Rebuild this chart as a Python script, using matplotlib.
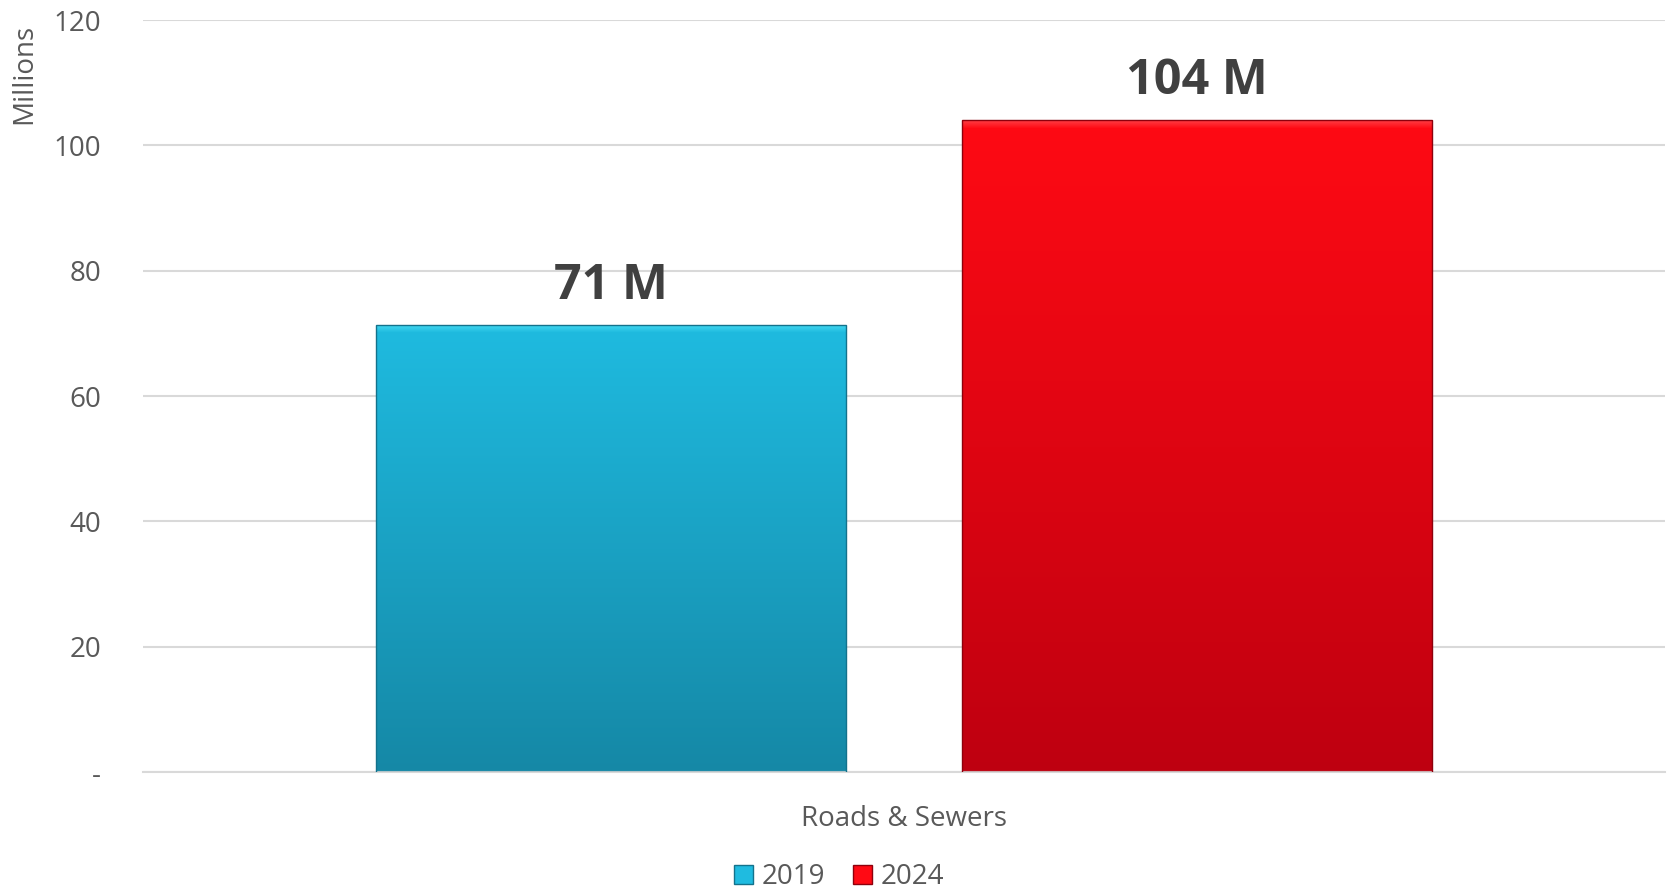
import matplotlib
matplotlib.use("Agg")
import matplotlib.pyplot as plt
import numpy as np
from matplotlib.colors import to_rgb
from matplotlib.patches import Rectangle

categories = ["Roads & Sewers"]
series_names = ["2019", "2024"]
values = [71.4, 104.0]
labels = ["71 M", "104 M"]
yticks = [0, 20, 40, 60, 80, 100, 120]
ytick_labels = ["-", "20", "40", "60", "80", "100", "120"]

top_colors = ["#1FBBE0", "#FF0A14"]
bot_colors = ["#1588A6", "#BE0010"]
bevel_colors = ["#4FE3F7", "#FF4A50"]
edge_colors = ["#13728C", "#8E000C"]

plt.rcParams['font.family'] = ['Open Sans', 'DejaVu Sans']
fig = plt.figure(figsize=(16.71, 8.89), dpi=100)
ax = fig.add_axes([0.0856, 0.1316, 0.9108, 0.8459])
ax.set_xlim(0, 1)
ax.set_ylim(0, 120)

offsets = [-0.1925, 0.1925]
width = 0.309
px_per_unit = 0.8459 * 889 / 120.0
for i, (v, lab) in enumerate(zip(values, labels)):
    bars = ax.bar(0.5 + offsets[i], v, width=width, color='none',
                  edgecolor=edge_colors[i], linewidth=1.0, zorder=3,
                  label=series_names[i])
    p = bars[0]
    x0 = p.get_x(); w = p.get_width(); h = p.get_height()
    n = max(int(h * px_per_unit), 2)
    t = np.linspace(0, 1, n)[:, None]
    c0 = np.array(to_rgb(bot_colors[i])); c1 = np.array(to_rgb(top_colors[i]))
    img = c0 + (c1 - c0) * t
    bev = np.array(to_rgb(bevel_colors[i]))
    for k in range(8):
        a = 1 - k / 8.0
        img[n - 1 - k] = img[n - 1 - k] * (1 - a * 0.8) + bev * a * 0.8
    img = img[:, None, :]
    im = ax.imshow(img, extent=[x0, x0 + w, 0, h], origin='lower',
                   aspect='auto', zorder=2, interpolation='nearest')
    im.set_clip_path(p)
    ax.text(p.get_x() + w / 2, h + 2.2, lab, ha='center', va='bottom',
            fontsize=35, fontweight='bold', color='#404040', zorder=4)

ax.set_xlim(0, 1)
ax.set_ylim(0, 120)
ax.set_yticks(yticks)
ax.set_yticklabels(ytick_labels)
ax.set_xticks([0.5])
ax.set_xticklabels(categories)
ax.tick_params(axis='both', length=0, labelsize=20, colors='#595959')
ax.tick_params(axis='y', pad=30)
ax.tick_params(axis='x', pad=24)
ax.grid(axis='y', color='#D9D9D9', linewidth=1.5, zorder=0)
ax.set_axisbelow(True)
for s in ['top', 'right', 'left']:
    ax.spines[s].set_visible(False)
ax.spines['bottom'].set_color('#D9D9D9')
ax.spines['bottom'].set_linewidth(1.5)
fig.text(24 / 1671, 1 - 24 / 889, "Millions", rotation=90, ha='center', va='top',
         fontsize=20, color='#595959')

handles = [Rectangle((0, 0), 1, 1, facecolor=top_colors[i], edgecolor=edge_colors[i])
           for i in range(2)]
fig.legend(handles, series_names, loc='center', bbox_to_anchor=(0.502, 0.013),
           ncol=2, frameon=False, fontsize=20, labelcolor='#595959',
           handlelength=0.7, handleheight=0.7, handletextpad=0.3, columnspacing=1.0)

fig.savefig("out.png", dpi=100)
